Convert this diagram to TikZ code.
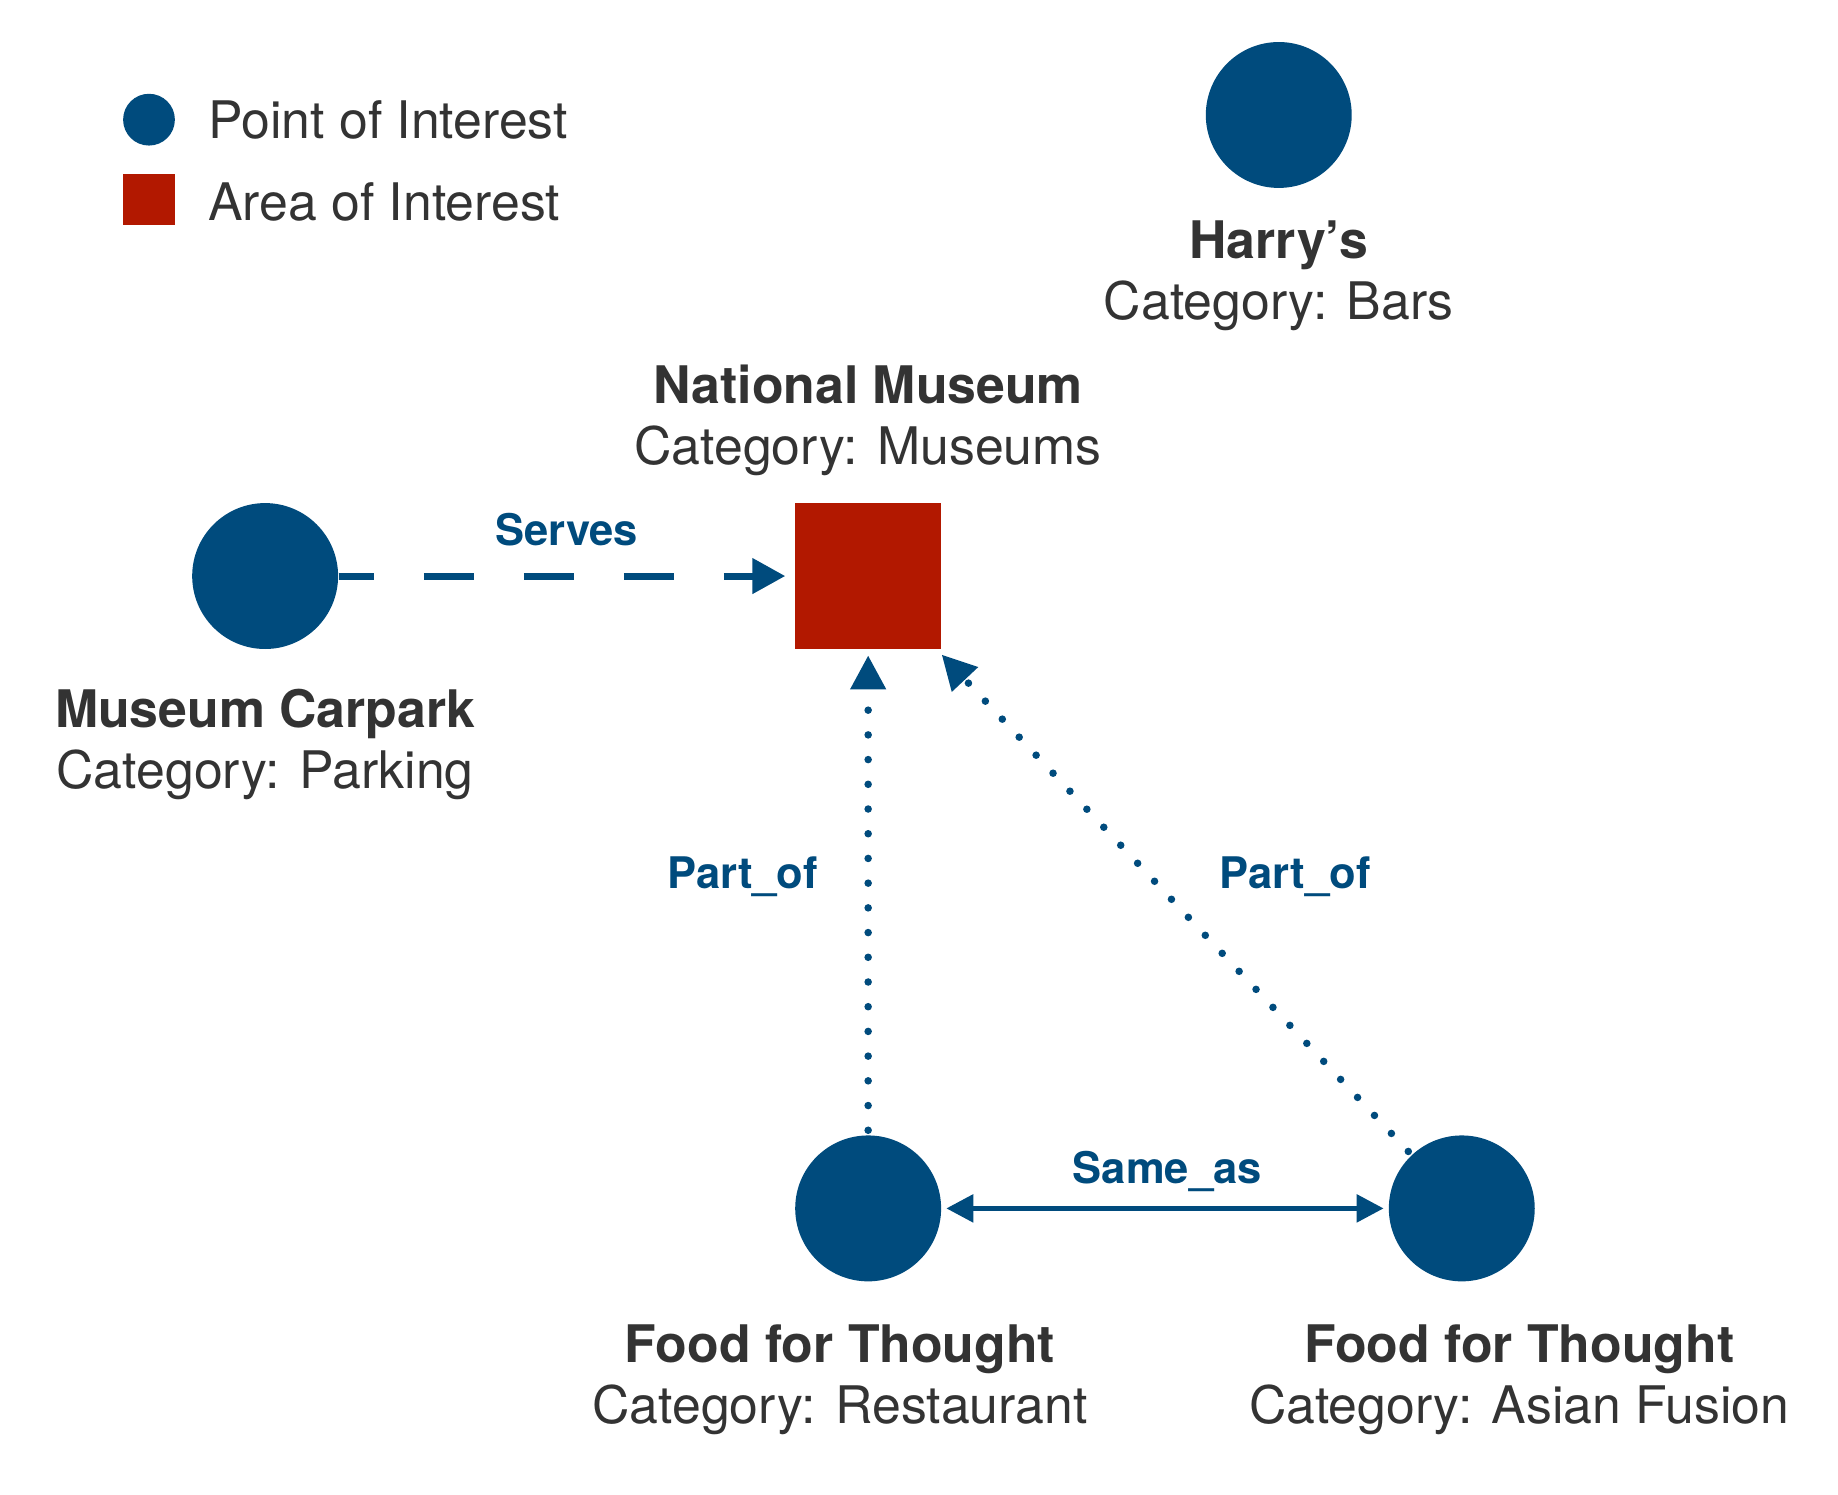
\documentclass[tikz,border=0pt]{standalone}
\usepackage{fontspec}
\setmainfont{TeX Gyre Heros}
\usetikzlibrary{arrows.meta}
\definecolor{poiblue}{HTML}{004B7D}
\definecolor{aoired}{HTML}{B21800}
\definecolor{txtgray}{HTML}{333333}
\begin{document}
\begin{tikzpicture}[x=0.4985pt,y=-0.4985pt,
  poi/.style={circle,fill=poiblue,inner sep=0pt,minimum size=62pt},
  aoi/.style={rectangle,fill=aoired,inner sep=0pt,minimum size=62pt},
  title/.style={anchor=base,text=txtgray,font=\fontsize{22}{26}\selectfont\bfseries,inner sep=0pt},
  cat/.style={anchor=base,text=txtgray,font=\fontsize{22}{26}\selectfont,inner sep=0pt},
  elabel/.style={anchor=base,text=poiblue,font=\fontsize{18.5}{22}\selectfont\bfseries,inner sep=0pt},
  conn/.style={draw=poiblue,line width=3pt},
  dotconn/.style={conn,line width=3.2pt,line cap=round,dash pattern=on 0pt off 10.5pt},
  bigtip/.style={-{Triangle[length=14.5pt,width=14.5pt]}},
]
\useasboundingbox (0pt,0pt) rectangle (781pt,-635pt);
\fill[white] (0pt,0pt) rectangle (781pt,-635pt);
% legend
\node[poi,minimum size=22pt] (legpoi) at (127,102) {};
\node[aoi,minimum size=22pt] (legaoi) at (127,170) {};
\node[cat,anchor=base west] (legpoitext) at (177,118) {Point of Interest};
\node[cat,anchor=base west] (legaoitext) at (177,188) {Area of Interest};
% nodes
\node[poi] (harry) at (1090,98) {};
\node[title] (harryt) at (1090,220) {Harry’s};
\node[cat] (harryc) at (1090,272) {Category: Bars};
\node[aoi] (museum) at (740,491) {};
\node[title] (museumt) at (740,344) {National Museum};
\node[cat] (museumc) at (740,396) {Category: Museums};
\node[poi] (carpark) at (226,491) {};
\node[title] (carparkt) at (226,620) {Museum Carpark};
\node[cat] (carparkc) at (226,672) {Category: Parking};
\node[poi] (food1) at (740,1030) {};
\node[title] (food1t) at (716,1161) {Food for Thought};
\node[cat] (food1c) at (716,1213) {Category: Restaurant};
\node[poi] (food2) at (1246,1030) {};
\node[title] (food2t) at (1295,1161) {Food for Thought};
\node[cat] (food2c) at (1295,1213) {Category: Asian Fusion};
% edges
\draw[conn,dash pattern=on 21.25pt off 21.25pt,dash phase=6.25pt,
  -{Triangle[length=14pt,width=14.5pt]},shorten >=4pt] (carpark) -- (museum);
\draw[dotconn,bigtip,shorten >=2.5pt,shorten <=2pt] (food1) -- (museum);
\draw[dotconn,bigtip,shorten >=3pt,shorten <=2pt] (food2) -- (museum);
\draw[conn,line width=2.3pt,{Triangle[length=11.5pt,width=11.5pt]}-{Triangle[length=11.5pt,width=11.5pt]},
  shorten <=2pt,shorten >=2pt] (food1) -- (food2);
% edge labels
\node[elabel] (lserves) at (483,465) {Serves};
\node[elabel] (lpart1) at (633,757) {Part\_of};
\node[elabel] (lpart2) at (1104,757) {Part\_of};
\node[elabel] (lsame) at (995,1009) {Same\_as};
\end{tikzpicture}
\end{document}
